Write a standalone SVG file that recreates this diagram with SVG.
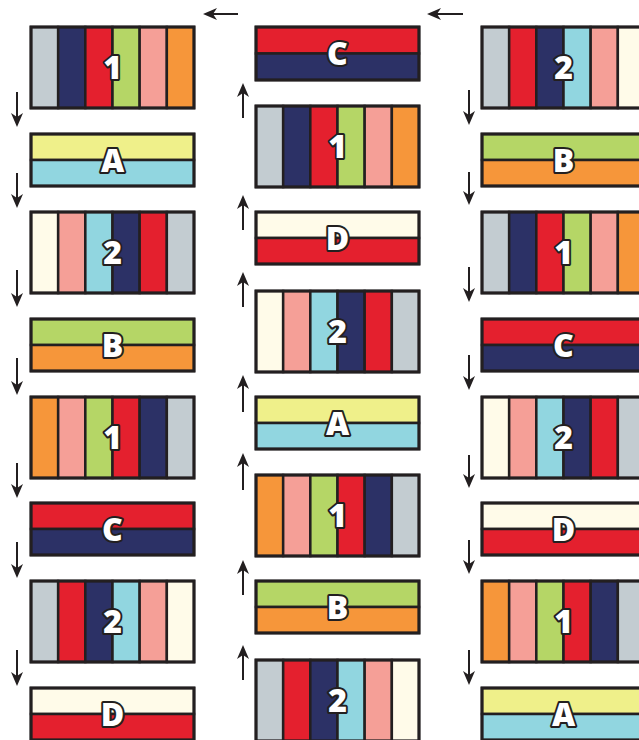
<svg xmlns="http://www.w3.org/2000/svg" width="639" height="740" viewBox="0 0 639 740">
<style>
.s{stroke:#231f20;stroke-width:2.5}
.o{fill:none;stroke:#231f20;stroke-width:3}
.gy{fill:#c3ccd1}.nv{fill:#2c3166}.rd{fill:#e4202e}.gn{fill:#b5d666}.pk{fill:#f59f97}.or{fill:#f6963a}.cy{fill:#91d6e0}.cr{fill:#fffbe9}.ye{fill:#eff08a}
.lb{font-family:"Open Sans","Liberation Sans",sans-serif;font-weight:800;font-size:32px;fill:#fff;stroke:#231f20;stroke-width:4;paint-order:stroke;stroke-linejoin:round;text-anchor:middle}
.ar{stroke:#231f20;stroke-width:2;fill:none;marker-end:url(#ah)}
</style>
<defs>
<marker id="ah" viewBox="0 0 14 12" refX="4" refY="6" markerWidth="14" markerHeight="12" markerUnits="userSpaceOnUse" orient="auto">
<path d="M0,0 L14,6 L0,12 L4,6 z" fill="#231f20"/>
</marker>
</defs>

<g id="connectors">
<line class="ar" x1="238" y1="14" x2="213" y2="14"/>
<line class="ar" x1="463" y1="14" x2="437" y2="14"/>
<line class="ar" x1="17" y1="92" x2="17" y2="117"/>
<line class="ar" x1="17" y1="173" x2="17" y2="198"/>
<line class="ar" x1="17" y1="270" x2="17" y2="297"/>
<line class="ar" x1="17" y1="358" x2="17" y2="385"/>
<line class="ar" x1="17" y1="463" x2="17" y2="488"/>
<line class="ar" x1="17" y1="542" x2="17" y2="568"/>
<line class="ar" x1="17" y1="650" x2="17" y2="676"/>
<line class="ar" x1="243" y1="118" x2="243" y2="93"/>
<line class="ar" x1="243" y1="230" x2="243" y2="205"/>
<line class="ar" x1="243" y1="307" x2="243" y2="282"/>
<line class="ar" x1="243" y1="412" x2="243" y2="385"/>
<line class="ar" x1="243" y1="490" x2="243" y2="463"/>
<line class="ar" x1="243" y1="595" x2="243" y2="570"/>
<line class="ar" x1="243" y1="680" x2="243" y2="655"/>
<line class="ar" x1="469" y1="90" x2="469" y2="115"/>
<line class="ar" x1="469" y1="172" x2="469" y2="195"/>
<line class="ar" x1="469" y1="267" x2="469" y2="292"/>
<line class="ar" x1="469" y1="355" x2="469" y2="380"/>
<line class="ar" x1="469" y1="455" x2="469" y2="478"/>
<line class="ar" x1="469" y1="540" x2="469" y2="564"/>
<line class="ar" x1="469" y1="650" x2="469" y2="675"/>
</g>

<!-- Left column -->
<g id="L1" transform="translate(31,27)">
<rect class="s gy" x="0" y="0" width="27.17" height="81"/><rect class="s nv" x="27.17" y="0" width="27.17" height="81"/><rect class="s rd" x="54.33" y="0" width="27.17" height="81"/><rect class="s gn" x="81.5" y="0" width="27.17" height="81"/><rect class="s pk" x="108.67" y="0" width="27.17" height="81"/><rect class="s or" x="135.83" y="0" width="27.17" height="81"/>
<rect class="o" x="0" y="0" width="163" height="81"/><text class="lb" x="81.5" y="52">1</text></g>
<g id="LA" transform="translate(31,134)">
<rect class="s ye" x="0" y="0" width="163" height="26"/><rect class="s cy" x="0" y="26" width="163" height="26"/><rect class="o" x="0" y="0" width="163" height="52"/><text class="lb" x="81.5" y="37.5">A</text></g>
<g id="L2" transform="translate(31,212)">
<rect class="s cr" x="0" y="0" width="27.17" height="81"/><rect class="s pk" x="27.17" y="0" width="27.17" height="81"/><rect class="s cy" x="54.33" y="0" width="27.17" height="81"/><rect class="s nv" x="81.5" y="0" width="27.17" height="81"/><rect class="s rd" x="108.67" y="0" width="27.17" height="81"/><rect class="s gy" x="135.83" y="0" width="27.17" height="81"/>
<rect class="o" x="0" y="0" width="163" height="81"/><text class="lb" x="81.5" y="52">2</text></g>
<g id="LB" transform="translate(31,319)">
<rect class="s gn" x="0" y="0" width="163" height="26"/><rect class="s or" x="0" y="26" width="163" height="26"/><rect class="o" x="0" y="0" width="163" height="52"/><text class="lb" x="81.5" y="37.5">B</text></g>
<g id="L3" transform="translate(31,397)">
<rect class="s or" x="0" y="0" width="27.17" height="81"/><rect class="s pk" x="27.17" y="0" width="27.17" height="81"/><rect class="s gn" x="54.33" y="0" width="27.17" height="81"/><rect class="s rd" x="81.5" y="0" width="27.17" height="81"/><rect class="s nv" x="108.67" y="0" width="27.17" height="81"/><rect class="s gy" x="135.83" y="0" width="27.17" height="81"/>
<rect class="o" x="0" y="0" width="163" height="81"/><text class="lb" x="81.5" y="52">1</text></g>
<g id="LC" transform="translate(31,503)">
<rect class="s rd" x="0" y="0" width="163" height="26"/><rect class="s nv" x="0" y="26" width="163" height="26"/><rect class="o" x="0" y="0" width="163" height="52"/><text class="lb" x="81.5" y="37.5">C</text></g>
<g id="L4" transform="translate(31,581)">
<rect class="s gy" x="0" y="0" width="27.17" height="81"/><rect class="s rd" x="27.17" y="0" width="27.17" height="81"/><rect class="s nv" x="54.33" y="0" width="27.17" height="81"/><rect class="s cy" x="81.5" y="0" width="27.17" height="81"/><rect class="s pk" x="108.67" y="0" width="27.17" height="81"/><rect class="s cr" x="135.83" y="0" width="27.17" height="81"/>
<rect class="o" x="0" y="0" width="163" height="81"/><text class="lb" x="81.5" y="52">2</text></g>
<g id="LD" transform="translate(31,688)">
<rect class="s cr" x="0" y="0" width="163" height="26"/><rect class="s rd" x="0" y="26" width="163" height="26"/><rect class="o" x="0" y="0" width="163" height="52"/><text class="lb" x="81.5" y="37.5">D</text></g>

<!-- Middle column -->
<g id="MC" transform="translate(256,27)">
<rect class="s rd" x="0" y="0" width="163" height="26.5"/><rect class="s nv" x="0" y="26.5" width="163" height="26.5"/><rect class="o" x="0" y="0" width="163" height="53"/><text class="lb" x="81.5" y="38">C</text></g>
<g id="M1" transform="translate(256,106)">
<rect class="s gy" x="0" y="0" width="27.17" height="81"/><rect class="s nv" x="27.17" y="0" width="27.17" height="81"/><rect class="s rd" x="54.33" y="0" width="27.17" height="81"/><rect class="s gn" x="81.5" y="0" width="27.17" height="81"/><rect class="s pk" x="108.67" y="0" width="27.17" height="81"/><rect class="s or" x="135.83" y="0" width="27.17" height="81"/>
<rect class="o" x="0" y="0" width="163" height="81"/><text class="lb" x="81.5" y="52">1</text></g>
<g id="MD" transform="translate(256,212)">
<rect class="s cr" x="0" y="0" width="163" height="26"/><rect class="s rd" x="0" y="26" width="163" height="26"/><rect class="o" x="0" y="0" width="163" height="52"/><text class="lb" x="81.5" y="37.5">D</text></g>
<g id="M2" transform="translate(256,291)">
<rect class="s cr" x="0" y="0" width="27.17" height="81"/><rect class="s pk" x="27.17" y="0" width="27.17" height="81"/><rect class="s cy" x="54.33" y="0" width="27.17" height="81"/><rect class="s nv" x="81.5" y="0" width="27.17" height="81"/><rect class="s rd" x="108.67" y="0" width="27.17" height="81"/><rect class="s gy" x="135.83" y="0" width="27.17" height="81"/>
<rect class="o" x="0" y="0" width="163" height="81"/><text class="lb" x="81.5" y="52">2</text></g>
<g id="MA" transform="translate(256,397)">
<rect class="s ye" x="0" y="0" width="163" height="26"/><rect class="s cy" x="0" y="26" width="163" height="26"/><rect class="o" x="0" y="0" width="163" height="52"/><text class="lb" x="81.5" y="37.5">A</text></g>
<g id="M3" transform="translate(256,475)">
<rect class="s or" x="0" y="0" width="27.17" height="81"/><rect class="s pk" x="27.17" y="0" width="27.17" height="81"/><rect class="s gn" x="54.33" y="0" width="27.17" height="81"/><rect class="s rd" x="81.5" y="0" width="27.17" height="81"/><rect class="s nv" x="108.67" y="0" width="27.17" height="81"/><rect class="s gy" x="135.83" y="0" width="27.17" height="81"/>
<rect class="o" x="0" y="0" width="163" height="81"/><text class="lb" x="81.5" y="52">1</text></g>
<g id="MB" transform="translate(256,581)">
<rect class="s gn" x="0" y="0" width="163" height="26"/><rect class="s or" x="0" y="26" width="163" height="26"/><rect class="o" x="0" y="0" width="163" height="52"/><text class="lb" x="81.5" y="37.5">B</text></g>
<g id="M4" transform="translate(256,660)">
<rect class="s gy" x="0" y="0" width="27.17" height="81"/><rect class="s rd" x="27.17" y="0" width="27.17" height="81"/><rect class="s nv" x="54.33" y="0" width="27.17" height="81"/><rect class="s cy" x="81.5" y="0" width="27.17" height="81"/><rect class="s pk" x="108.67" y="0" width="27.17" height="81"/><rect class="s cr" x="135.83" y="0" width="27.17" height="81"/>
<rect class="o" x="0" y="0" width="163" height="81"/><text class="lb" x="81.5" y="52">2</text></g>

<!-- Right column -->
<g id="R1" transform="translate(482,27)">
<rect class="s gy" x="0" y="0" width="27.17" height="81"/><rect class="s rd" x="27.17" y="0" width="27.17" height="81"/><rect class="s nv" x="54.33" y="0" width="27.17" height="81"/><rect class="s cy" x="81.5" y="0" width="27.17" height="81"/><rect class="s pk" x="108.67" y="0" width="27.17" height="81"/><rect class="s cr" x="135.83" y="0" width="27.17" height="81"/>
<rect class="o" x="0" y="0" width="163" height="81"/><text class="lb" x="81.5" y="52">2</text></g>
<g id="RB" transform="translate(482,134)">
<rect class="s gn" x="0" y="0" width="163" height="26"/><rect class="s or" x="0" y="26" width="163" height="26"/><rect class="o" x="0" y="0" width="163" height="52"/><text class="lb" x="81.5" y="37.5">B</text></g>
<g id="R2" transform="translate(482,212)">
<rect class="s gy" x="0" y="0" width="27.17" height="81"/><rect class="s nv" x="27.17" y="0" width="27.17" height="81"/><rect class="s rd" x="54.33" y="0" width="27.17" height="81"/><rect class="s gn" x="81.5" y="0" width="27.17" height="81"/><rect class="s pk" x="108.67" y="0" width="27.17" height="81"/><rect class="s or" x="135.83" y="0" width="27.17" height="81"/>
<rect class="o" x="0" y="0" width="163" height="81"/><text class="lb" x="81.5" y="52">1</text></g>
<g id="RC" transform="translate(482,319)">
<rect class="s rd" x="0" y="0" width="163" height="26"/><rect class="s nv" x="0" y="26" width="163" height="26"/><rect class="o" x="0" y="0" width="163" height="52"/><text class="lb" x="81.5" y="37.5">C</text></g>
<g id="R3" transform="translate(482,397)">
<rect class="s cr" x="0" y="0" width="27.17" height="81"/><rect class="s pk" x="27.17" y="0" width="27.17" height="81"/><rect class="s cy" x="54.33" y="0" width="27.17" height="81"/><rect class="s nv" x="81.5" y="0" width="27.17" height="81"/><rect class="s rd" x="108.67" y="0" width="27.17" height="81"/><rect class="s gy" x="135.83" y="0" width="27.17" height="81"/>
<rect class="o" x="0" y="0" width="163" height="81"/><text class="lb" x="81.5" y="52">2</text></g>
<g id="RD" transform="translate(482,503)">
<rect class="s cr" x="0" y="0" width="163" height="26"/><rect class="s rd" x="0" y="26" width="163" height="26"/><rect class="o" x="0" y="0" width="163" height="52"/><text class="lb" x="81.5" y="37.5">D</text></g>
<g id="R4" transform="translate(482,581)">
<rect class="s or" x="0" y="0" width="27.17" height="81"/><rect class="s pk" x="27.17" y="0" width="27.17" height="81"/><rect class="s gn" x="54.33" y="0" width="27.17" height="81"/><rect class="s rd" x="81.5" y="0" width="27.17" height="81"/><rect class="s nv" x="108.67" y="0" width="27.17" height="81"/><rect class="s gy" x="135.83" y="0" width="27.17" height="81"/>
<rect class="o" x="0" y="0" width="163" height="81"/><text class="lb" x="81.5" y="52">1</text></g>
<g id="RA" transform="translate(482,688)">
<rect class="s ye" x="0" y="0" width="163" height="26"/><rect class="s cy" x="0" y="26" width="163" height="26"/><rect class="o" x="0" y="0" width="163" height="52"/><text class="lb" x="81.5" y="37.5">A</text></g>
</svg>
